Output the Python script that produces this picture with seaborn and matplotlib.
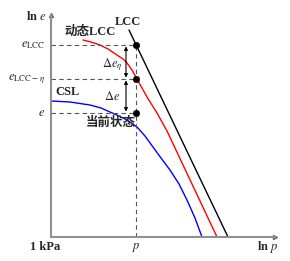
import numpy as np
import pandas as pd
import seaborn as sns
import matplotlib.pyplot as plt

# curve points (x ~ ln p, y ~ ln e, arbitrary units)
lcc_x = [78, 177]
lcc_y = [207, 0]
dyn_x = [32, 40, 49, 57, 66, 72, 76, 81, 86, 91, 96, 101, 106, 111, 116, 141, 166]
dyn_y = [197, 195, 192, 188, 182, 178, 174, 167, 158, 149, 140, 132, 124, 115, 106, 53, 0]
csl_x = [0, 19, 39, 50, 59, 68, 76, 86, 94, 102, 110, 119, 128, 136, 144, 151]
csl_y = [136, 135, 132, 129, 125, 121, 117, 110, 101, 90, 79, 67, 53, 37, 19, 0]

p_now = 85
e_levels = [192, 158, 124]  # e_LCC, e_LCC-eta, e
e_labels = [r'$e_{\mathrm{LCC}}$', r'$e_{\mathrm{LCC}-\eta}$', r'$e$']


def main():
    sns.set_style("white")
    plt.rcParams['font.family'] = ['Liberation Serif', 'Noto Sans CJK SC', 'DejaVu Sans']
    plt.rcParams['mathtext.fontset'] = 'stix'

    fig = plt.figure(figsize=(2.9, 2.61), dpi=100)
    ax = fig.add_axes([51 / 290, 24 / 261, 224 / 290, 222 / 261])
    ax.set_xlim(0, 224)
    ax.set_ylim(0, 222)

    lines = pd.concat([
        pd.DataFrame({'x': lcc_x, 'y': lcc_y, 'name': 'LCC'}),
        pd.DataFrame({'x': dyn_x, 'y': dyn_y, 'name': 'dyn'}),
        pd.DataFrame({'x': csl_x, 'y': csl_y, 'name': 'CSL'}),
    ])
    sns.lineplot(data=lines, x='x', y='y', hue='name', sort=False, estimator=None,
                 palette={'LCC': 'black', 'dyn': 'red', 'CSL': 'blue'},
                 linewidth=1.0, legend=False, ax=ax)

    # dashed guides
    for yv in e_levels:
        ax.plot([0, p_now], [yv, yv], ls=(0, (4, 3)), color='#555555', lw=0.8)
    ax.plot([p_now, p_now], [0, e_levels[0]], ls=(0, (4, 3)), color='#555555', lw=0.8)

    pts = pd.DataFrame({'x': [p_now] * 3, 'y': e_levels})
    sns.scatterplot(data=pts, x='x', y='y', color='black', s=22, zorder=5,
                    edgecolor='black', ax=ax)

    # double arrows
    ax.annotate('', xy=(75, e_levels[0]), xytext=(75, e_levels[1]),
                arrowprops=dict(arrowstyle='<|-|>', color='black', lw=0.8,
                                mutation_scale=5, shrinkA=1, shrinkB=1))
    ax.annotate('', xy=(75, e_levels[1]), xytext=(75, e_levels[2]),
                arrowprops=dict(arrowstyle='<|-|>', color='black', lw=0.8,
                                mutation_scale=5, shrinkA=1, shrinkB=1))

    # axes styling
    for s in ['top', 'right']:
        ax.spines[s].set_visible(False)
    for s in ['left', 'bottom']:
        ax.spines[s].set_color('#909090')
        ax.spines[s].set_linewidth(1.5)
    ax.set_xticks([])
    ax.set_yticks([])
    ax.set_xlabel('')
    ax.set_ylabel('')
    ax.plot(1, 0, '>', color='#707070', ms=3, transform=ax.transAxes, clip_on=False)
    ax.plot(0, 1, '^', color='#707070', ms=3, transform=ax.transAxes, clip_on=False)

    fs = 9
    for yv, lab in zip(e_levels, e_labels):
        ax.text(-6, yv, lab, ha='right', va='center', fontsize=fs, clip_on=False)
    ax.text(-4, 221, r'$\mathbf{ln}$ $e$', ha='right', va='center', fontsize=fs, clip_on=False)
    ax.text(-6, -10, '1 kPa', ha='center', va='center', fontsize=fs,
            fontweight='bold', clip_on=False)
    ax.text(p_now, -10, r'$p$', ha='center', va='center', fontsize=fs, clip_on=False)
    ax.text(217, -10, r'$\mathbf{ln}$ $p$', ha='center', va='center', fontsize=fs, clip_on=False)

    ax.text(77, 215, 'LCC', ha='center', va='center', fontsize=fs, fontweight='bold')
    ax.text(39, 205, '动态LCC', ha='center', va='center', fontsize=fs, fontweight='bold')
    ax.text(17, 145, 'CSL', ha='center', va='center', fontsize=fs, fontweight='bold')
    ax.text(60, 114, '当前状态', ha='center', va='center', fontsize=fs, fontweight='bold')
    ax.text(61, 172, r'$\Delta e_{\eta}$', ha='center', va='center', fontsize=fs)
    ax.text(61, 140, r'$\Delta e$', ha='center', va='center', fontsize=fs)

    fig.savefig('out.png', dpi=100)


if __name__ == "__main__":
    main()
